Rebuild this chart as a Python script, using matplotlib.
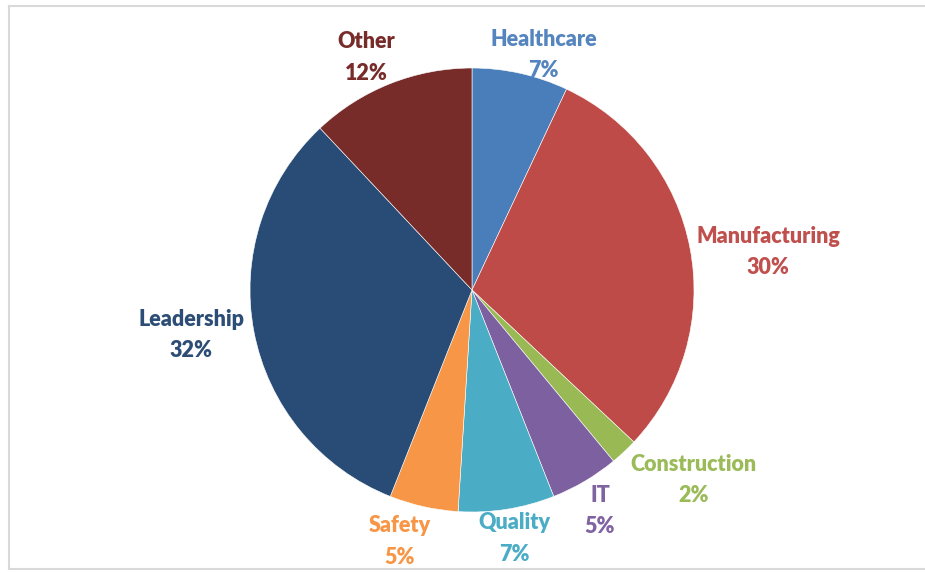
import matplotlib
matplotlib.use("Agg")
import matplotlib.pyplot as plt
from matplotlib.lines import Line2D
import numpy as np

categories = ["Healthcare", "Manufacturing", "Construction", "IT", "Quality", "Safety", "Leadership", "Other"]
values = [7, 30, 2, 5, 7, 5, 32, 12]

colors = ["#4A7EBB", "#BE4B48", "#98B954", "#7D60A0", "#4BACC6", "#F79646", "#284C75", "#772C2A"]
text_colors = ["#5585BF", "#C0504D", "#9BBB59", "#8064A2", "#4BACC6", "#F79646", "#2C4D75", "#772C2A"]
# label placement (style): radial distance and angular offset from wedge middle
label_dist = [1.106, 1.344, 1.315, 1.15, 1.136, 1.18, 1.28, 1.15]
label_dang = [-4.3, -3.5, 6.2, -0.5, 0.6, -3.4, -1.7, 2.9]

W, H = 925, 573
fig = plt.figure(figsize=(W / 100, H / 100), dpi=100)
fig.patch.set_facecolor("white")

# light frame (top, left, bottom)
fc = "#d9d9d9"
for xs, ys in [([9, W], [6, 6]), ([9, 9], [6, 569]), ([9, W], [569, 569])]:
    fig.add_artist(Line2D([x / W for x in xs], [1 - y / H for y in ys],
                          transform=fig.transFigure, color=fc, linewidth=1.5))

cx, cy, r = 472, 290, 222
ax = fig.add_axes([(cx - r) / W, (H - cy - r) / H, 2 * r / W, 2 * r / H])
wedges, _ = ax.pie(values, colors=colors, startangle=90, counterclock=False,
                   radius=1.0, wedgeprops=dict(edgecolor="white", linewidth=0.4))
ax.set_xlim(-1, 1)
ax.set_ylim(-1, 1)
ax.set_aspect("equal")
ax.axis("off")

for w, cat, v, tc, d, da in zip(wedges, categories, values, text_colors, label_dist, label_dang):
    ang = np.deg2rad((w.theta1 + w.theta2) / 2 + da)
    x, y = d * np.cos(ang), d * np.sin(ang)
    ax.text(x, y, f"{cat}\n{v}%", ha="center", va="center", color=tc,
            fontsize=15.5, fontweight="heavy", family=["Lato", "DejaVu Sans"],
            linespacing=1.63, clip_on=False)

fig.savefig("out.png", dpi=100)
